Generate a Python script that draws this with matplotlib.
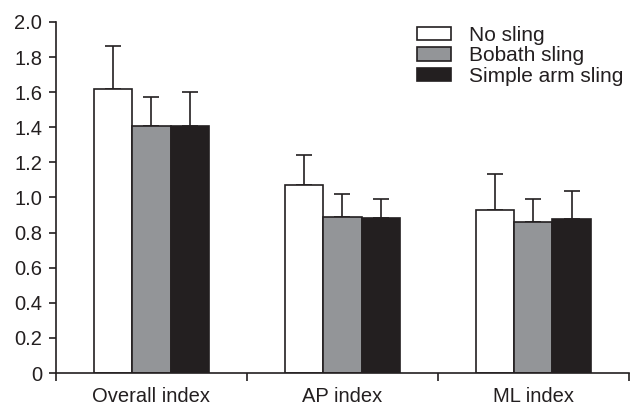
import matplotlib
matplotlib.use("Agg")
import matplotlib.pyplot as plt
import numpy as np

plt.rcParams['font.family'] = ['Liberation Sans', 'DejaVu Sans']

categories = ['Overall index', 'AP index', 'ML index']
series_names = ['No sling', 'Bobath sling', 'Simple arm sling']
no_sling = [1.62, 1.07, 0.93]
no_sling_err = [0.245, 0.17, 0.205]
bobath = [1.41, 0.89, 0.86]
bobath_err = [0.165, 0.13, 0.13]
simple_arm = [1.41, 0.885, 0.875]
simple_arm_err = [0.19, 0.105, 0.16]

ink = '#231f20'
colors = ['white', '#939598', '#231f20']
fs = 14.5

fig = plt.figure(figsize=(6.32, 4.05), dpi=100)
ax = fig.add_axes([0.0886, 0.079, 0.9064, 0.8667])

x = np.arange(len(categories)) + 0.5
width = 0.2
values = [no_sling, bobath, simple_arm]
errors = [no_sling_err, bobath_err, simple_arm_err]
for i, (vals, errs) in enumerate(zip(values, errors)):
    pos = x + (i - 1) * width
    ax.bar(pos, vals, width, color=colors[i], edgecolor=ink, linewidth=1.2,
           label=series_names[i], zorder=2)
    ax.errorbar(pos, vals, yerr=[np.zeros(len(vals)), errs], fmt='none',
                ecolor=ink, elinewidth=1.2, capsize=5.5, capthick=1.2, zorder=1)

ax.set_xlim(0, 3)
ax.set_ylim(0, 2.0)
ax.set_yticks(np.arange(0, 2.01, 0.2))
ax.set_yticklabels(['0'] + ['%.1f' % v for v in np.arange(0.2, 2.01, 0.2)])
ax.set_xticks(x)
ax.set_xticklabels(categories)
ax.set_xticks([0, 1, 2, 3], minor=True)
ax.tick_params(axis='x', which='major', length=0, pad=10, labelsize=fs, colors=ink)
ax.tick_params(axis='x', which='minor', length=6, width=1.2, color=ink)
ax.tick_params(axis='y', length=5, width=1.2, color=ink, labelsize=fs,
               labelcolor=ink, pad=5)

for s in ['top', 'right']:
    ax.spines[s].set_visible(False)
for s in ['left', 'bottom']:
    ax.spines[s].set_linewidth(1.2)
    ax.spines[s].set_color(ink)

leg = ax.legend(loc='upper right', bbox_to_anchor=(1.012, 1.025), frameon=False,
                fontsize=15, handlelength=1.65, handleheight=0.6,
                labelspacing=0.08, handletextpad=0.85, borderaxespad=0.2)
for t in leg.get_texts():
    t.set_color(ink)

fig.savefig('out.png', dpi=100)
